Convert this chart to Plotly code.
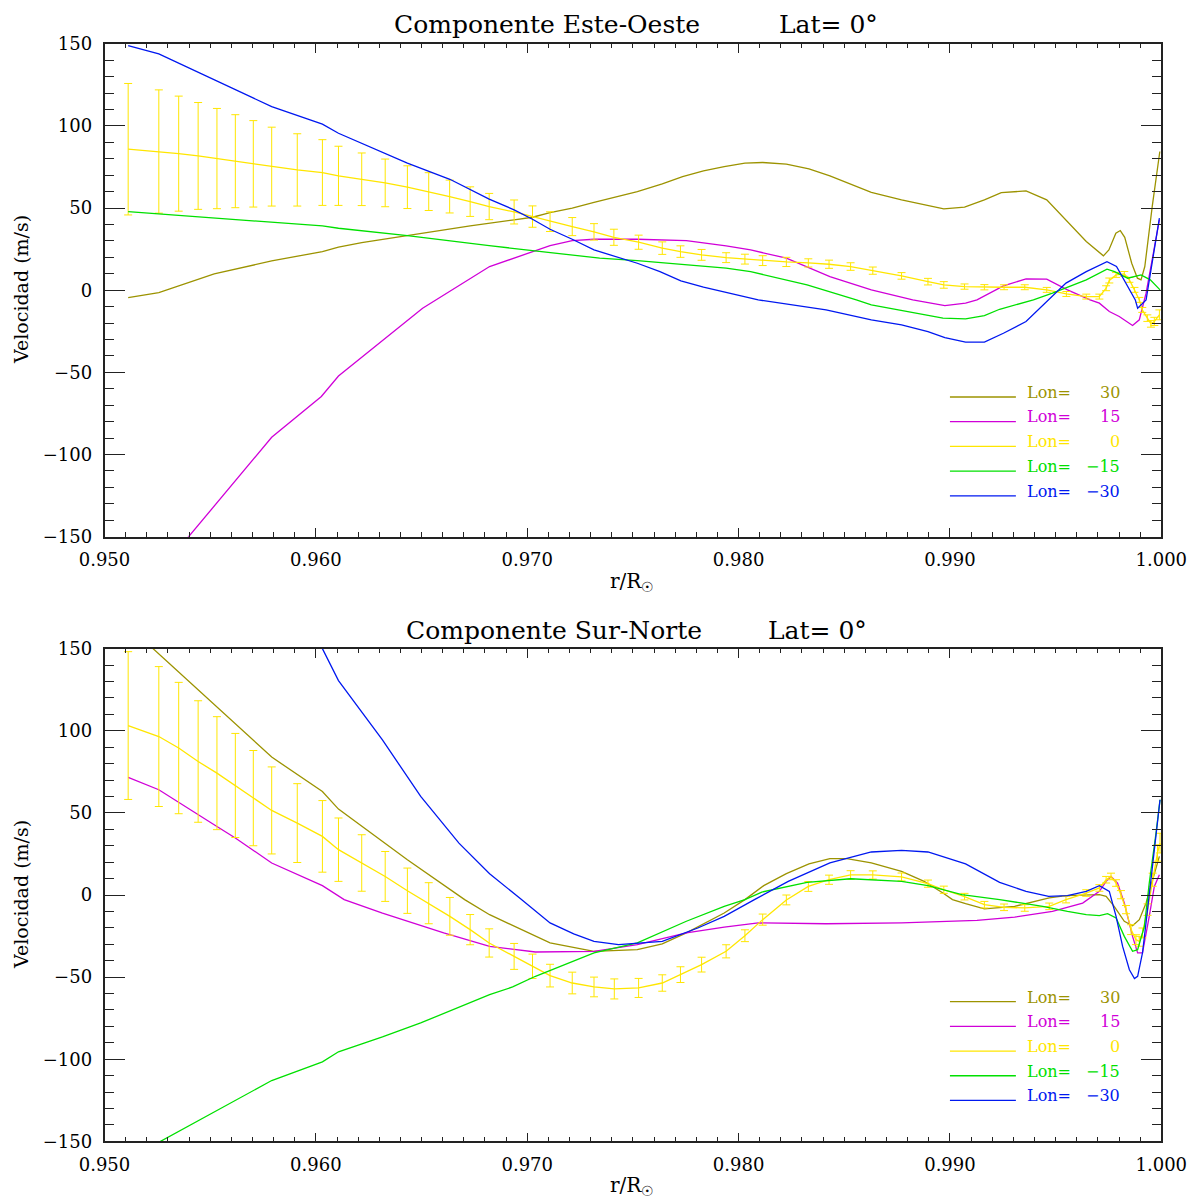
import plotly.graph_objects as go

# ---------------- DATA ----------------
lon_values = [30, 15, 0, -15, -30]
lon_colors = ["#9c9300", "#d000d8", "#ffe600", "#00e000", "#0018f0"]

# Componente Este-Oeste
ew_r_30 = [0.95112, 0.95257, 0.95519, 0.95791, 0.96031, 0.96107, 0.96217, 0.96496, 0.96730, 0.96938,
           0.97025, 0.97108, 0.97213, 0.97316, 0.97521, 0.97639, 0.97735, 0.97834, 0.97932, 0.98030,
           0.98114, 0.98226, 0.98333, 0.98432, 0.98530, 0.98628, 0.98771, 0.98896, 0.98971, 0.99069,
           0.99163, 0.99243, 0.99360, 0.99458, 0.99556, 0.99645, 0.99726, 0.99752, 0.99785, 0.99806,
           0.99827, 0.99860, 0.99887, 0.99904, 0.99922, 0.99957, 0.99993]
ew_v_30 = [-4.5, -1.5, 9.9, 17.8, 23.5, 26.2, 29.0, 34.7, 39.1, 42.8,
           44.4, 47.2, 49.9, 53.5, 60.0, 64.7, 69.1, 72.6, 75.2, 77.3,
           77.7, 76.7, 73.8, 69.6, 64.7, 59.6, 55.0, 51.5, 49.5, 50.5,
           55.0, 59.4, 60.4, 55.0, 41.7, 29.6, 20.9, 24.5, 34.7, 36.3,
           32.2, 16.4, 7.3, 6.3, 14.4, 50.9, 84.4]

ew_r_15 = [0.95112, 0.95398, 0.95791, 0.96026, 0.96107, 0.96505, 0.96569, 0.96822, 0.97108, 0.97213,
           0.97316, 0.97521, 0.97753, 0.97941, 0.98057, 0.98226, 0.98432, 0.98628, 0.98824, 0.98976,
           0.99074, 0.99128, 0.99253, 0.99360, 0.99458, 0.99556, 0.99663, 0.99707, 0.99754, 0.99801,
           0.99864, 0.99896, 0.99928, 0.99991]
ew_v_15 = [-194.0, -150.0, -89.5, -64.7, -52.2, -11.0, -5.9, 14.4, 27.1, 30.2,
           31.0, 31.0, 30.2, 27.0, 24.5, 19.5, 8.3, 0.2, -5.9, -9.4,
           -7.9, -5.9, 2.6, 6.9, 6.7, 0.2, -5.9, -7.9, -13.0, -16.0,
           -21.5, -18.0, -1.8, 42.8]

ew_r_0 = [0.95112, 0.95257, 0.95351, 0.95443, 0.95532, 0.95619, 0.95704, 0.95791, 0.95912, 0.96031,
          0.96107, 0.96217, 0.96328, 0.96433, 0.96534, 0.96633, 0.96730, 0.96820, 0.96938, 0.97025,
          0.97108, 0.97213, 0.97316, 0.97410, 0.97527, 0.97639, 0.97725, 0.97825, 0.97941, 0.98030,
          0.98114, 0.98226, 0.98330, 0.98428, 0.98530, 0.98635, 0.98771, 0.98896, 0.98971, 0.99069,
          0.99163, 0.99256, 0.99354, 0.99458, 0.99551, 0.99645, 0.99707, 0.99739, 0.99754, 0.99786,
          0.99825, 0.99849, 0.99873, 0.99896, 0.99910, 0.99934, 0.99951, 0.99967, 0.99991]
ew_v_0 = [85.8, 84.4, 83.1, 81.7, 80.1, 78.5, 76.9, 75.2, 73.2, 71.6,
          69.6, 67.5, 65.3, 62.7, 60.0, 57.0, 53.9, 50.9, 47.6, 44.8,
          41.7, 38.7, 35.5, 32.2, 29.2, 25.6, 23.5, 21.5, 19.8, 18.9,
          18.0, 17.2, 16.6, 15.8, 14.4, 11.9, 8.7, 5.2, 3.2, 2.2,
          1.8, 1.8, 1.8, 0.2, -2.3, -3.9, -3.9, 1.2, 5.9, 9.3,
          9.9, 6.3, 0.2, -5.9, -12.0, -17.0, -20.5, -19.0, -15.0]
ew_e_0 = [40.0, 37.5, 35.0, 32.5, 30.5, 28.3, 26.3, 24.0, 22.0, 20.0,
          18.0, 16.0, 14.5, 13.0, 11.5, 10.0, 9.0, 8.0, 7.3, 6.5,
          6.0, 5.5, 5.0, 4.9, 4.3, 3.8, 3.5, 3.3, 3.0, 3.0,
          3.0, 2.8, 2.5, 2.5, 2.3, 2.2, 2.0, 2.0, 2.0, 1.6,
          1.6, 1.5, 1.5, 1.5, 1.5, 1.5, 1.5, 1.5, 1.5, 1.5,
          1.5, 1.5, 1.5, 1.5, 1.5, 2.0, 2.0, 2.5, 3.0]

ew_r_m15 = [0.95112, 0.95791, 0.96031, 0.96107, 0.96433, 0.96820, 0.97025, 0.97108, 0.97316, 0.97343,
            0.97521, 0.97941, 0.98057, 0.98324, 0.98557, 0.98628, 0.98967, 0.99074, 0.99163, 0.99235,
            0.99395, 0.99485, 0.99645, 0.99743, 0.99779, 0.99841, 0.99904, 0.99948, 0.99994]
ew_v_m15 = [47.8, 41.4, 39.1, 37.7, 33.2, 27.1, 24.1, 22.5, 19.8, 19.5,
            18.0, 13.4, 11.3, 3.2, -5.9, -8.9, -17.0, -17.5, -15.5, -11.6,
            -5.9, -1.8, 6.3, 12.8, 11.3, 7.3, 9.3, 6.3, 0.2]

ew_r_m30 = [0.95112, 0.95257, 0.95791, 0.96031, 0.96107, 0.96433, 0.96634, 0.96820, 0.96938, 0.97025,
            0.97108, 0.97213, 0.97316, 0.97521, 0.97628, 0.97727, 0.97834, 0.98093, 0.98414, 0.98628,
            0.98771, 0.98896, 0.98976, 0.99074, 0.99163, 0.99253, 0.99360, 0.99467, 0.99549, 0.99645,
            0.99743, 0.99788, 0.99841, 0.99877, 0.99888, 0.99928, 0.99991]
ew_v_m30 = [148.9, 143.8, 111.7, 101.0, 95.5, 77.3, 67.5, 55.4, 48.9, 43.2,
            37.1, 31.0, 24.5, 16.4, 11.3, 5.7, 1.8, -5.9, -12.0, -18.0,
            -21.1, -25.2, -28.8, -31.6, -31.6, -26.2, -19.1, -5.9, 4.3, 11.3,
            17.4, 14.4, 2.2, -5.9, -11.0, -5.9, 43.8]

# Componente Sur-Norte
sn_r_30 = [0.95112, 0.95230, 0.95791, 0.96031, 0.96107, 0.96433, 0.96704, 0.96822, 0.96938, 0.97108,
           0.97316, 0.97521, 0.97639, 0.97753, 0.97932, 0.98030, 0.98119, 0.98226, 0.98333, 0.98432,
           0.98512, 0.98628, 0.98771, 0.98878, 0.98967, 0.99012, 0.99074, 0.99163, 0.99306, 0.99449,
           0.99470, 0.99549, 0.99707, 0.99739, 0.99777, 0.99825, 0.99864, 0.99896, 0.99928, 0.99959,
           0.99991]
sn_v_30 = [163.9, 150.0, 84.0, 63.0, 52.3, 21.5, -2.8, -12.0, -19.1, -29.2,
           -34.3, -33.3, -29.8, -23.1, -11.0, -2.8, 5.7, 13.0, 18.9, 22.1,
           22.1, 19.5, 14.4, 8.3, 1.2, -2.8, -5.3, -8.5, -6.9, -2.8,
           -1.8, -0.4, 0.2, -0.8, -6.9, -16.0, -18.7, -15.0, -4.9, 9.3,
           23.5]

sn_r_15 = [0.95112, 0.95257, 0.95532, 0.95619, 0.95791, 0.96031, 0.96134, 0.96315, 0.96605, 0.96822,
           0.97039, 0.97316, 0.97521, 0.97753, 0.97932, 0.98093, 0.98414, 0.98771, 0.99128, 0.99235,
           0.99306, 0.99485, 0.99628, 0.99707, 0.99739, 0.99762, 0.99793, 0.99825, 0.99864, 0.99888,
           0.99911, 0.99943, 0.99967, 0.99991]
sn_v_15 = [71.6, 64.1, 41.7, 34.7, 19.5, 5.7, -2.8, -11.0, -23.1, -31.3,
           -34.7, -34.3, -30.2, -23.1, -19.5, -17.0, -17.5, -17.0, -15.5, -14.4,
           -13.5, -10.0, -4.9, 2.2, 8.3, 11.3, 7.3, -4.9, -25.2, -35.3,
           -35.3, -13.0, 5.2, 12.4]

sn_r_0 = [0.95112, 0.95257, 0.95351, 0.95443, 0.95532, 0.95619, 0.95704, 0.95791, 0.95912, 0.96031,
          0.96107, 0.96217, 0.96328, 0.96433, 0.96534, 0.96634, 0.96730, 0.96820, 0.96938, 0.97025,
          0.97108, 0.97213, 0.97316, 0.97412, 0.97527, 0.97639, 0.97725, 0.97825, 0.97941, 0.98030,
          0.98114, 0.98226, 0.98330, 0.98428, 0.98530, 0.98635, 0.98771, 0.98896, 0.98971, 0.99069,
          0.99163, 0.99256, 0.99354, 0.99470, 0.99549, 0.99645, 0.99707, 0.99739, 0.99762, 0.99786,
          0.99809, 0.99833, 0.99857, 0.99880, 0.99896, 0.99911, 0.99935, 0.99959, 0.99982, 0.99994]
sn_v_0 = [103.2, 96.5, 89.5, 81.3, 74.2, 66.7, 59.0, 51.5, 43.8, 35.7,
          27.6, 19.5, 11.3, 2.6, -5.0, -13.0, -21.1, -29.2, -37.4, -43.4,
          -49.1, -53.6, -56.0, -57.2, -56.6, -53.6, -48.5, -42.4, -34.3, -24.8,
          -15.0, -3.0, 5.2, 9.3, 12.2, 12.2, 11.0, 6.9, 3.2, -1.0,
          -5.9, -7.5, -7.9, -6.9, -2.8, 1.2, 4.3, 9.3, 11.3, 7.3,
          0.2, -8.9, -21.1, -27.2, -28.2, -23.1, -8.9, 9.3, 25.6, 31.6]
sn_e_0 = [45.0, 42.6, 40.0, 37.0, 34.4, 31.7, 29.0, 26.5, 24.0, 21.8,
          19.3, 17.2, 15.2, 13.8, 12.5, 11.5, 9.2, 8.6, 7.9, 7.4,
          6.9, 6.6, 6.0, 6.1, 5.8, 5.0, 4.8, 4.5, 4.0, 3.6,
          3.4, 3.0, 3.0, 2.8, 2.6, 2.5, 2.4, 2.2, 2.2, 2.0,
          2.0, 2.0, 2.0, 2.0, 2.0, 2.0, 2.0, 2.0, 2.0, 2.0,
          2.5, 2.5, 3.0, 3.0, 3.0, 3.0, 3.5, 4.0, 5.0, 6.0]

sn_r_m15 = [0.95112, 0.95266, 0.95791, 0.96031, 0.96107, 0.96315, 0.96496, 0.96822, 0.96931, 0.97039,
            0.97316, 0.97521, 0.97639, 0.97753, 0.97932, 0.98030, 0.98110, 0.98324, 0.98530, 0.98771,
            0.98896, 0.99056, 0.99235, 0.99439, 0.99556, 0.99645, 0.99707, 0.99746, 0.99786, 0.99825,
            0.99864, 0.99888, 0.99920, 0.99943, 0.99975, 0.99994]
sn_v_m15 = [-160.8, -150.0, -113.0, -101.6, -95.5, -86.4, -77.9, -60.7, -56.0, -49.5,
            -35.3, -29.2, -22.7, -16.0, -6.9, -2.8, 1.8, 7.7, 9.9, 8.3,
            5.7, 0.2, -2.8, -6.9, -10.0, -12.0, -12.6, -11.4, -14.0, -25.2,
            -34.3, -33.3, -19.1, 7.3, 37.7, 58.0]

sn_r_m30 = [0.95112, 0.95600, 0.96031, 0.96107, 0.96315, 0.96496, 0.96677, 0.96822, 0.96967, 0.97108,
            0.97220, 0.97316, 0.97432, 0.97639, 0.97807, 0.97932, 0.98075, 0.98235, 0.98432, 0.98628,
            0.98771, 0.98896, 0.99074, 0.99235, 0.99360, 0.99467, 0.99556, 0.99645, 0.99707, 0.99754,
            0.99786, 0.99817, 0.99849, 0.99873, 0.99888, 0.99911, 0.99935, 0.99959, 0.99982, 0.99994]
sn_v_m30 = [330.0, 230.0, 150.0, 130.6, 94.5, 60.0, 31.6, 13.0, -2.2, -17.0,
            -23.7, -28.2, -30.2, -28.2, -20.1, -13.0, -2.8, 8.3, 19.5, 26.2,
            27.2, 26.2, 18.9, 7.7, 2.2, -0.8, -0.4, 2.2, 5.7, 2.2,
            -13.0, -31.3, -45.5, -50.9, -49.5, -35.3, -8.9, 17.4, 45.8, 58.0]

titles = ["Componente Este-Oeste", "Componente Sur-Norte"]
lat_label = "Lat= 0°"
y_title = "Velocidad (m/s)"
x_title = "r/R<sub>☉</sub>"

# ---------------- LAYOUT GEOMETRY ----------------
W, H = 1192, 1201
FONT = "DejaVu Serif"
x_dom = [104.5 / W, 1161.3 / W]
y_dom_top = [1 - 536.7 / H, 1 - 43.7 / H]
y_dom_bot = [1 - 1141.3 / H, 1 - 648.7 / H]

fig = go.Figure()

panels = [
    ("x", "y", [(ew_r_30, ew_v_30, None), (ew_r_15, ew_v_15, None), (ew_r_0, ew_v_0, ew_e_0),
                (ew_r_m15, ew_v_m15, None), (ew_r_m30, ew_v_m30, None)]),
    ("x2", "y2", [(sn_r_30, sn_v_30, None), (sn_r_15, sn_v_15, None), (sn_r_0, sn_v_0, sn_e_0),
                  (sn_r_m15, sn_v_m15, None), (sn_r_m30, sn_v_m30, None)]),
]

for xa, ya, series in panels:
    for (r, v, e), col, lon in zip(series, lon_colors, lon_values):
        tr = dict(x=r, y=v, mode="lines", xaxis=xa, yaxis=ya,
                  line=dict(color=col, width=1.3), showlegend=False,
                  name=f"Lon= {lon}")
        if e is not None:
            tr["error_y"] = dict(type="data", array=e, visible=True,
                                 color=col, thickness=1, width=4)
        fig.add_trace(go.Scatter(**tr))

axis_common = dict(showline=True, linecolor="#222", linewidth=1.6, mirror="ticks",
                   ticks="inside", tickcolor="#222", tickwidth=1.3,
                   showgrid=False, zeroline=False, automargin=False,
                   tickfont=dict(family=FONT, size=18, color="black"))

xaxis_cfg = dict(axis_common, range=[0.95, 1.0], domain=x_dom, tick0=0.95, dtick=0.01,
                 tickformat=".3f", ticklen=9, ticklabelstandoff=6,
                 minor=dict(ticks="inside", ticklen=4.5, dtick=0.001, tick0=0.95,
                            tickcolor="#222", tickwidth=1.1, showgrid=False))
yaxis_cfg = dict(axis_common, range=[-150, 150], tick0=0, dtick=50, ticklen=21,
                 ticklabelstandoff=7,
                 minor=dict(ticks="inside", ticklen=10, dtick=10, tick0=0,
                            tickcolor="#222", tickwidth=1.1, showgrid=False))

fig.update_layout(
    width=W, height=H, autosize=False,
    margin=dict(l=0, r=0, t=0, b=0, pad=0),
    paper_bgcolor="white", plot_bgcolor="white",
    showlegend=False,
    xaxis=dict(xaxis_cfg, anchor="y"),
    yaxis=dict(yaxis_cfg, domain=y_dom_top, anchor="x"),
    xaxis2=dict(xaxis_cfg, anchor="y2"),
    yaxis2=dict(yaxis_cfg, domain=y_dom_bot, anchor="x2"),
)

annotations = []
shapes = []
title_pos = [(392, 777, 25), (403.7, 766, 630.7)]
ytitle_y = [290, 895]
xtitle_y = [582, 1186]
for i, (xa, ya, _) in enumerate(panels):
    tx, lx, ty = title_pos[i]
    annotations.append(dict(text=titles[i], x=tx / W, y=1 - ty / H, xref="paper", yref="paper",
                            xanchor="left", yanchor="middle", showarrow=False,
                            font=dict(family=FONT, size=25, color="black")))
    annotations.append(dict(text=lat_label, x=lx / W, y=1 - ty / H, xref="paper", yref="paper",
                            xanchor="left", yanchor="middle", showarrow=False,
                            font=dict(family=FONT, size=25, color="black")))
    annotations.append(dict(text=y_title, x=21 / W, y=1 - ytitle_y[i] / H, xref="paper", yref="paper",
                            xanchor="center", yanchor="middle", textangle=-90, showarrow=False,
                            font=dict(family=FONT, size=19, color="black")))
    annotations.append(dict(text=x_title, x=632 / W, y=1 - xtitle_y[i] / H, xref="paper", yref="paper",
                            xanchor="center", yanchor="middle", showarrow=False,
                            font=dict(family=FONT, size=20, color="black")))
    # legend-like key inside the panel
    for k, (lon, col) in enumerate(zip(lon_values, lon_colors)):
        yk = 0.2834 - k * 0.0501
        shapes.append(dict(type="line", xref=f"{xa} domain", yref=f"{ya} domain",
                           x0=0.800, x1=0.8624, y0=yk, y1=yk,
                           line=dict(color=col, width=1.3)))
        annotations.append(dict(text="Lon=", xref=f"{xa} domain", yref=f"{ya} domain",
                                x=0.8708, y=yk + 0.0095, xanchor="left", yanchor="middle",
                                showarrow=False, font=dict(family=FONT, size=16, color=col)))
        annotations.append(dict(text=str(lon).replace("-", "\u2212"), xref=f"{xa} domain",
                                yref=f"{ya} domain", x=0.9626, y=yk + 0.0095,
                                xanchor="right", yanchor="middle", showarrow=False,
                                font=dict(family=FONT, size=16, color=col)))

fig.update_layout(annotations=annotations, shapes=shapes)
fig.write_html("out.html", config={"displayModeBar": False},
               post_script="document.body.style.margin='0';document.body.style.overflow='hidden';")
